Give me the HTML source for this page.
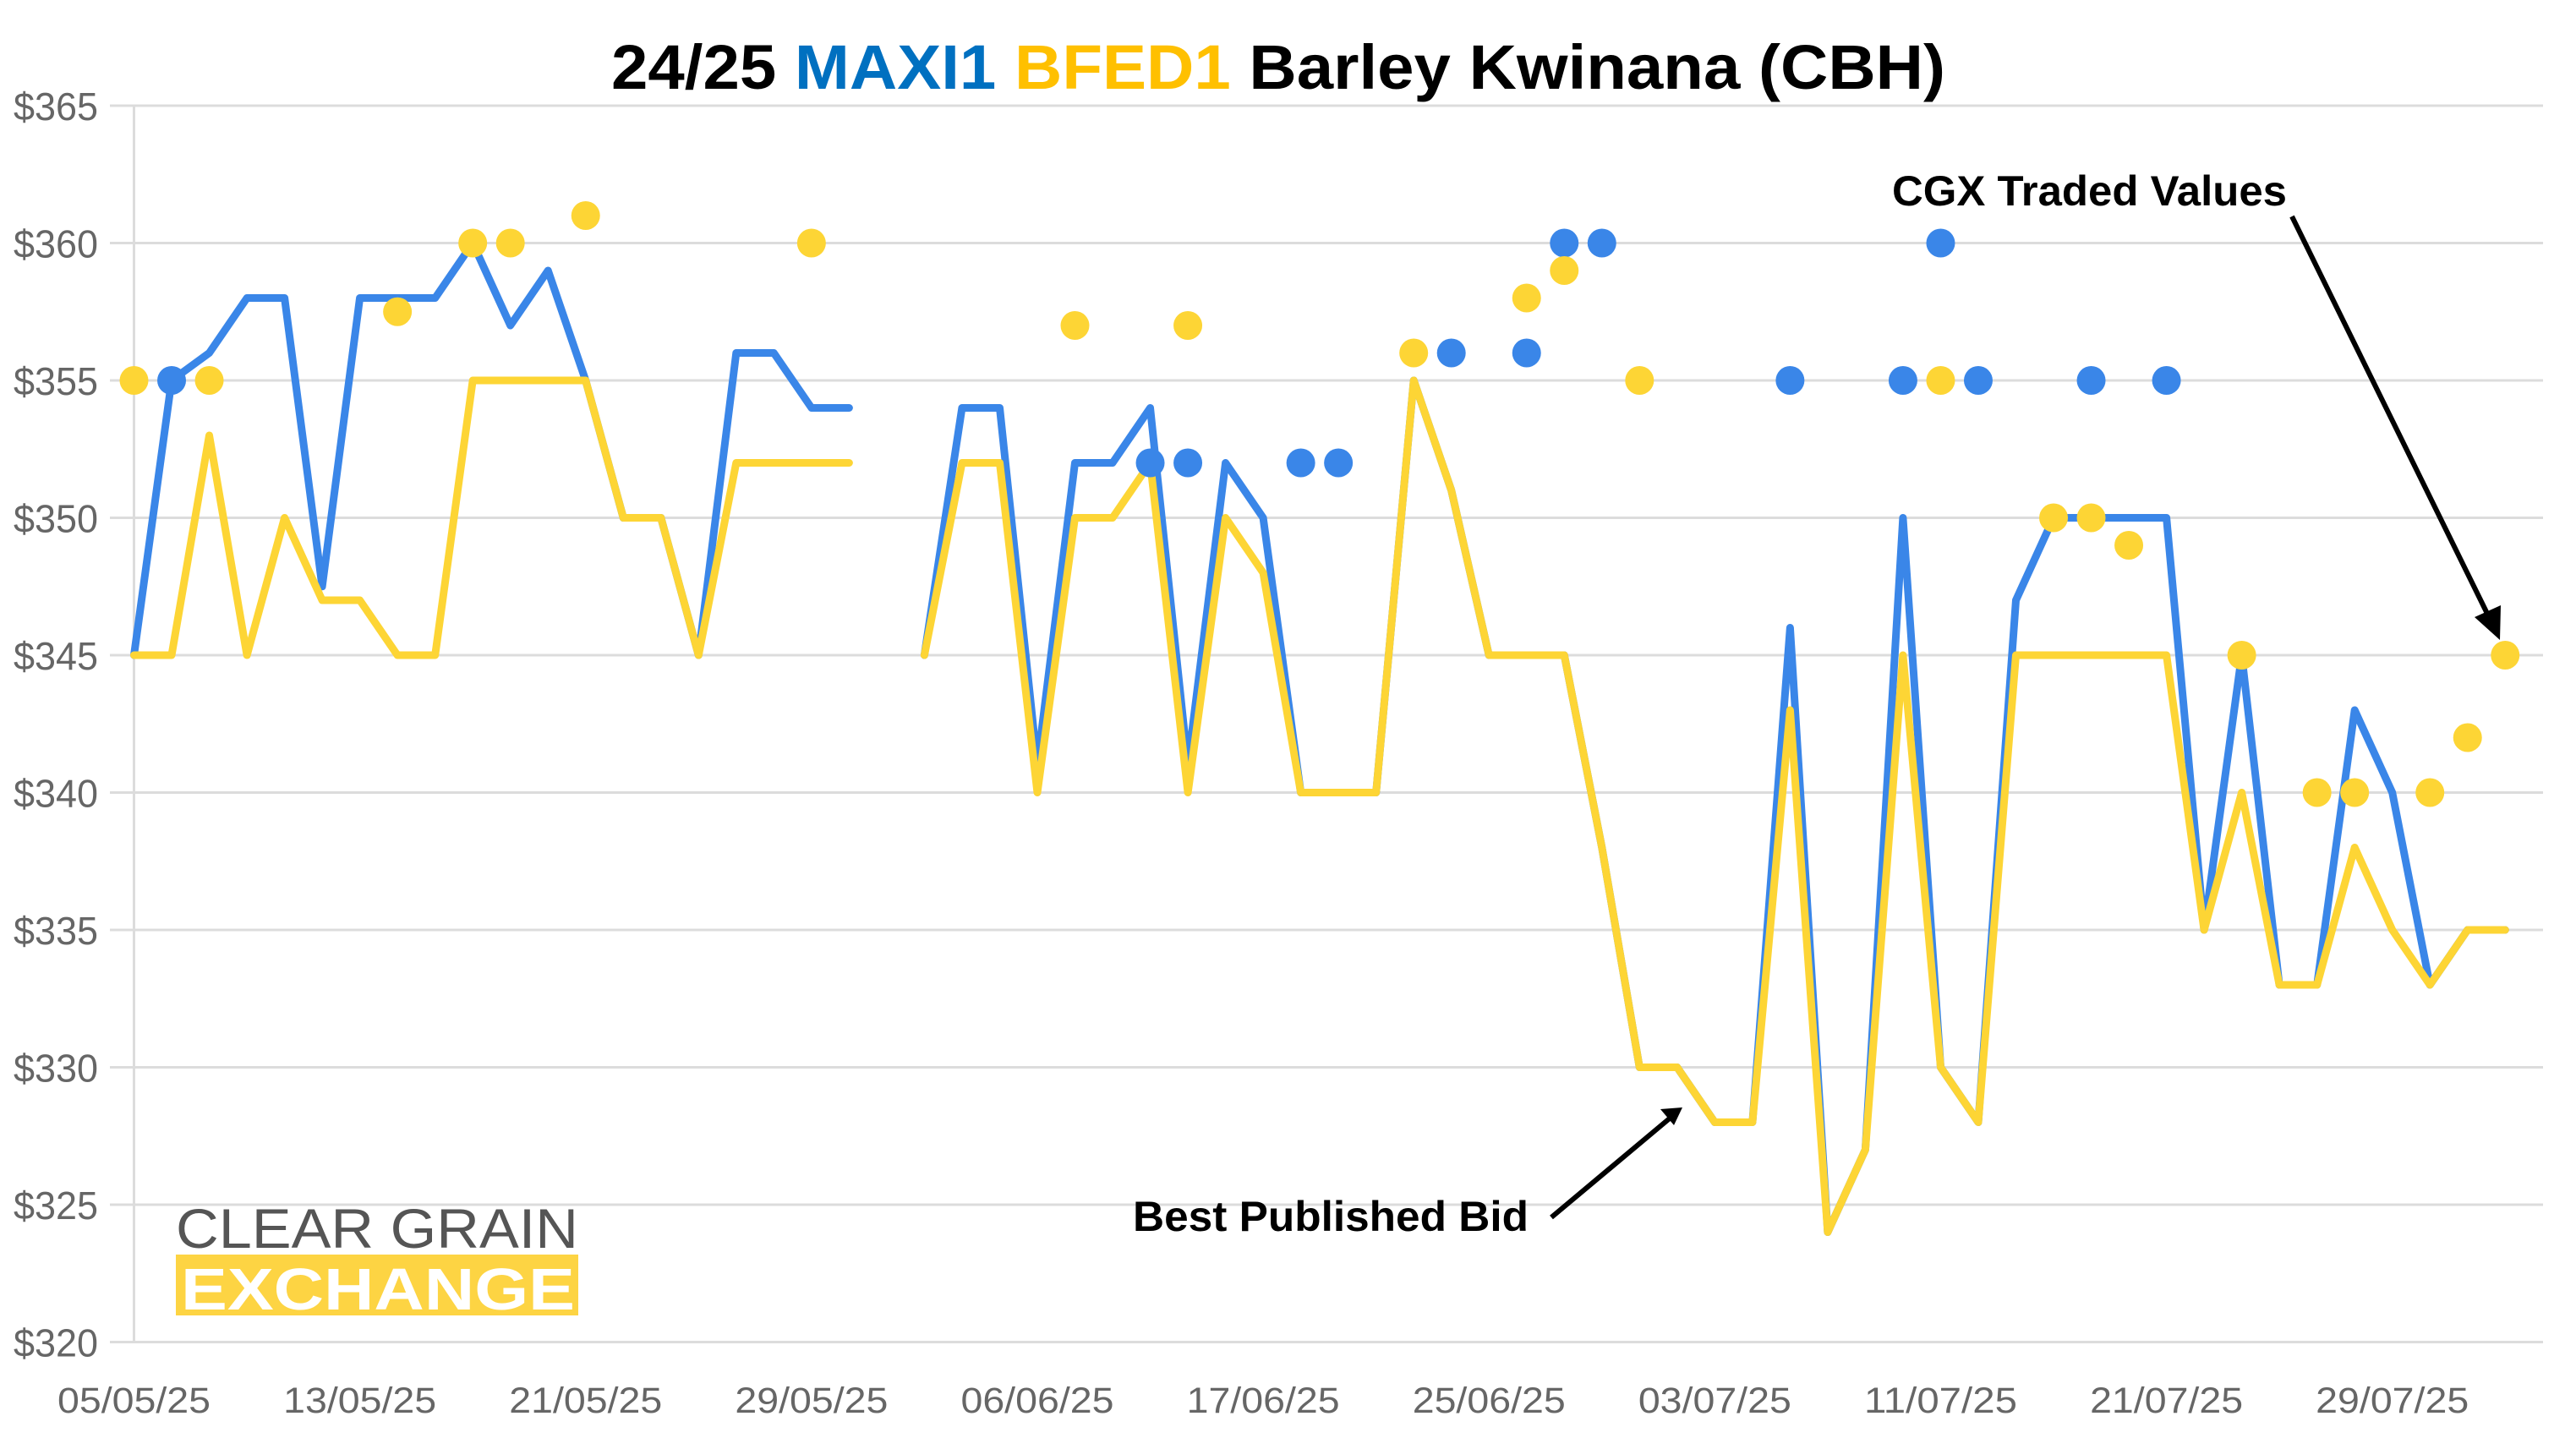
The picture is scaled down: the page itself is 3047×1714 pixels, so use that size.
<!DOCTYPE html>
<html><head><meta charset="utf-8"><style>
html,body{margin:0;padding:0;background:#fff}
svg{display:block}
text{font-family:"Liberation Sans",sans-serif}
</style></head><body>
<svg id="chart" width="3047" height="1714" viewBox="0 0 3047 1714" xmlns="http://www.w3.org/2000/svg">
<g id="grid"></g>
<g id="yaxis"></g>
<g id="xaxis"></g>
<g id="series"></g>
<text x="1512" y="105" text-anchor="middle" font-size="74" font-weight="bold" textLength="1578" lengthAdjust="spacingAndGlyphs"><tspan fill="#000">24/25  </tspan><tspan fill="#0070c0">MAXI1 </tspan><tspan fill="#ffc000">BFED1 </tspan><tspan fill="#000">Barley Kwinana (CBH)</tspan></text>
<text x="2238" y="243" font-size="50" font-weight="bold" textLength="467" lengthAdjust="spacingAndGlyphs">CGX Traded Values</text>
<line x1="2711" y1="256" x2="2948" y2="738" stroke="#000" stroke-width="6"/>
<polygon points="2957,757 2927,730 2958,716" fill="#000"/>
<text x="1340" y="1456" font-size="50" font-weight="bold" textLength="468" lengthAdjust="spacingAndGlyphs">Best Published Bid</text>
<line x1="1835" y1="1440" x2="1976" y2="1322" stroke="#000" stroke-width="6"/>
<polygon points="1990,1310 1964,1312 1980,1331" fill="#000"/>
<g>
<text x="208" y="1476" font-size="66" fill="#555" textLength="476" lengthAdjust="spacingAndGlyphs">CLEAR GRAIN</text>
<rect x="208" y="1484" width="476" height="72" fill="#fdd443"/>
<text x="214" y="1549" font-size="70" font-weight="bold" fill="#fff" textLength="466" lengthAdjust="spacingAndGlyphs">EXCHANGE</text>
</g>
</svg>
<script>
const xLabels=["05/05/25","13/05/25","21/05/25","29/05/25","06/06/25","17/06/25","25/06/25","03/07/25","11/07/25","21/07/25","29/07/25"];
const yTicks=[320,325,330,335,340,345,350,355,360,365];
const maxi1=[345,355,356,358,358,347.5,358,358,358,360,357,359,355,350,350,345,356,356,354,354,null,345,354,354,341,352,352,354,341,352,350,340,340,340,355,351,345,345,345,338,330,330,328,328,346,324,327,350,330,328,347,350,350,350,350,335,345,333,333,343,340,333,335,335];
const bfed1=[345,345,353,345,350,347,347,345,345,355,355,355,355,350,350,345,352,352,352,352,null,345,352,352,340,350,350,352,340,350,348,340,340,340,355,351,345,345,345,338,330,330,328,328,343,324,327,345,330,328,345,345,345,345,345,335,340,333,333,338,335,333,335,335];
const maxiTraded=[null,355,null,null,null,null,null,null,null,null,null,null,null,null,null,null,null,null,null,null,null,null,null,null,null,null,null,352,352,null,null,352,352,null,null,356,null,356,360,360,null,null,null,null,355,null,null,355,360,355,null,null,355,null,355,null,null,null,null,null,null,null,null,null];
const bfedTraded=[355,null,355,null,null,null,null,357.5,null,360,360,null,361,null,null,null,null,null,360,null,null,null,null,null,null,357,null,null,357,null,null,null,null,null,356,null,null,358,359,null,355,null,null,null,null,null,null,null,355,null,null,350,350,349,null,null,345,null,340,340,null,340,342,345];
const NS='http://www.w3.org/2000/svg';
const X0=158.5,DX=44.52,Y0=1587.5,PY=32.5;
const xs=i=>X0+i*DX, ys=v=>Y0-(v-320)*PY;
function mk(tag,attrs,parent){const e=document.createElementNS(NS,tag);for(const k in attrs)e.setAttribute(k,attrs[k]);parent.appendChild(e);return e;}
const grid=document.getElementById('grid'),ya=document.getElementById('yaxis'),xa=document.getElementById('xaxis'),ser=document.getElementById('series');
yTicks.forEach(v=>{
 const l=mk('line',{x1:130,x2:3008,y1:ys(v),y2:ys(v),stroke:'#dcdcdc','stroke-width':3},grid);
 
 
 const t=mk('text',{x:116,y:ys(v)+17,'text-anchor':'end','font-size':46,fill:'#666',textLength:100,lengthAdjust:'spacingAndGlyphs'},ya);
 t.textContent='$'+v;
 
 
});
const ax=mk('line',{x1:X0,x2:X0,y1:ys(365),y2:ys(320),stroke:'#dcdcdc','stroke-width':3},grid);


xLabels.forEach((s,k)=>{
 const t=mk('text',{x:xs(k*6),y:1671,'text-anchor':'middle','font-size':43,fill:'#666',textLength:181,lengthAdjust:'spacingAndGlyphs'},xa);
 t.textContent=s;
 
 
});
function line(arr,color,name){
 let d='',pen=false;
 arr.forEach((v,i)=>{if(v==null){pen=false;return;}d+=(pen?'L':'M')+xs(i).toFixed(1)+' '+ys(v).toFixed(1)+' ';pen=true;});
 const p=mk('path',{d:d,fill:'none',stroke:color,'stroke-width':9,'stroke-linejoin':'round','stroke-linecap':'round'},ser);
 
 
}
function dots(arr,color,name){
 arr.forEach((v,i)=>{if(v==null)return;
  const c=mk('circle',{cx:xs(i),cy:ys(v),r:17,fill:color},ser);
  
  
 });
}
line(maxi1,'#3a86e8','maxi1-line');
line(bfed1,'#fdd535','bfed1-line');
dots(maxiTraded,'#3a86e8','maxi1-traded-point');
dots(bfedTraded,'#fdd535','bfed1-traded-point');
</script>
</body></html>
